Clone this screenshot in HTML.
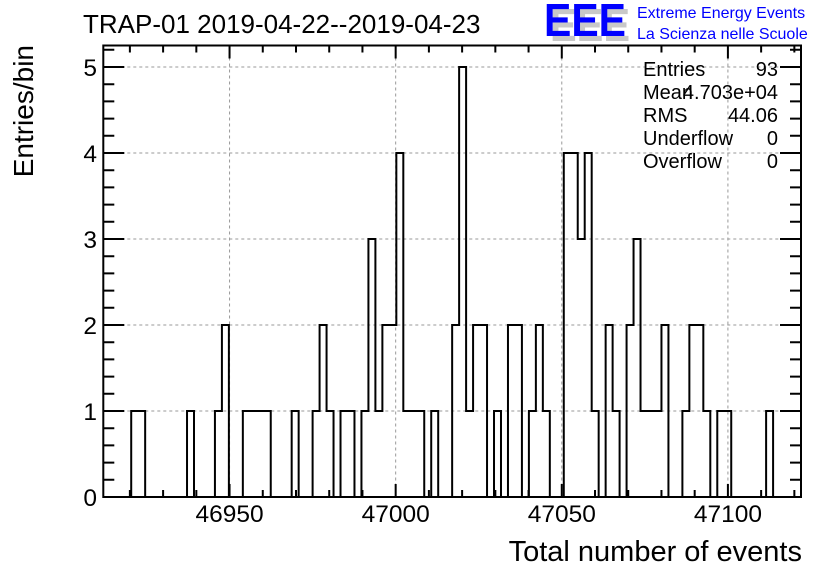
<!DOCTYPE html>
<html><head><meta charset="utf-8"><style>
html,body{margin:0;padding:0;background:#fff;}
svg{display:block;font-family:"Liberation Sans",Arial,sans-serif;}
</style></head><body>
<svg id="chart" width="836" height="572" viewBox="0 0 836 572" xmlns="http://www.w3.org/2000/svg">
<rect width="836" height="572" fill="#fff"/>
<g id="grid"></g>
<g id="ticks"></g>
<path id="hist" fill="none" stroke="#000" stroke-width="2"/>
<rect x="103.3" y="45.5" width="697.7" height="451.5" fill="none" stroke="#000" stroke-width="2"/>
<g id="labels" font-size="24.5" fill="#000"></g>
<text x="83" y="33" font-size="26">TRAP-01 2019-04-22--2019-04-23</text>
<text x="802" y="561" font-size="29" text-anchor="end">Total number of events</text>
<text transform="translate(33,45) rotate(-90)" font-size="28" text-anchor="end">Entries/bin</text>
<g font-weight="bold" font-size="46">
<text x="550" y="41" fill="#c8c8c8" textLength="80" lengthAdjust="spacingAndGlyphs">EEE</text>
<text x="544" y="36" fill="#0000ff" textLength="82" lengthAdjust="spacingAndGlyphs">EEE</text>
</g>
<text x="637" y="18" font-size="16" fill="#0000ff">Extreme Energy Events</text>
<text x="637" y="39" font-size="16" fill="#0000ff">La Scienza nelle Scuole</text>
<g font-size="20" fill="#000">
<text x="643" y="76">Entries</text><text x="778" y="76" text-anchor="end">93</text>
<text x="643" y="99">Mean</text><text x="778" y="99" text-anchor="end">4.703e+04</text>
<text x="643" y="122">RMS</text><text x="778" y="122" text-anchor="end">44.06</text>
<text x="643" y="145">Underflow</text><text x="778" y="145" text-anchor="end">0</text>
<text x="643" y="168">Overflow</text><text x="778" y="168" text-anchor="end">0</text>
</g>
</svg>
<script>
const binLow = 46912;
const binWidth = 2.1;
const counts = [0,0,0,0,1,1,0,0,0,0, 0,0,1,0,0,0,1,2,0,0, 1,1,1,1,0,0,0,1,0,0,
 1,2,1,0,1,1,0,1,3,1, 2,2,4,1,1,1,0,1,0,0, 2,5,1,2,2,0,1,0,2,2,
 0,1,2,1,0,0,4,4,3,4, 1,0,2,1,0,2,3,1,1,1, 2,0,0,1,2,2,1,0,1,1,
 0,0,0,0,0,1,0,0,0,0];
const xTicks = [46950,47000,47050,47100];
const yTicks = [0,1,2,3,4,5];
const X0=103.3,X1=801,Y0=497,Y1=45.5,xmin=46912,xmax=47122,ymax=5.25;
const sx=v=>X0+(v-xmin)*(X1-X0)/(xmax-xmin);
const sy=v=>Y0-v*(Y0-Y1)/ymax;
const NS="http://www.w3.org/2000/svg";
function mk(t,a,p){const e=document.createElementNS(NS,t);for(const k in a)e.setAttribute(k,a[k]);p.appendChild(e);return e;}
const grid=document.getElementById('grid'),ticks=document.getElementById('ticks'),labels=document.getElementById('labels');
xTicks.forEach(v=>{const x=sx(v);
 const g=mk('line',{x1:x,x2:x,y1:Y1,y2:Y0,stroke:'#999','stroke-dasharray':'3,3','stroke-width':1},grid);
 
 
 const t=mk('text',{x:x,y:522,'text-anchor':'middle'},labels);t.textContent=v;
 
 
});
yTicks.forEach(v=>{const y=sy(v);
 if(v>0){const g=mk('line',{x1:X0,x2:X1,y1:y,y2:y,stroke:'#999','stroke-dasharray':'3,3','stroke-width':1},grid);
 
 }
 const t=mk('text',{x:97,y:y+9,'text-anchor':'end'},labels);t.textContent=v;
 
 
});
let d='';
for(let v=46920;v<=47120;v+=10){const x=sx(v),L=(v%50===0)?13:7;d+=`M${x},${Y0}v${-L}M${x},${Y1}v${L}`;}
for(let i=0;i<=26;i++){const v=i*0.2,y=sy(v),L=(i%5===0)?21:11;d+=`M${X0},${y}h${L}M${X1},${y}h${-L}`;}
const tk=mk('path',{d:d,stroke:'#000','stroke-width':2,fill:'none'},ticks);


let p=`M${sx(binLow)},${sy(0)}`;
counts.forEach((c,i)=>{const a=sx(binLow+i*binWidth),b=sx(binLow+(i+1)*binWidth);p+=`L${a},${sy(c)}L${b},${sy(c)}`;});
p+=`L${sx(binLow+counts.length*binWidth)},${sy(0)}`;
document.getElementById('hist').setAttribute('d',p);
</script>
</body></html>
